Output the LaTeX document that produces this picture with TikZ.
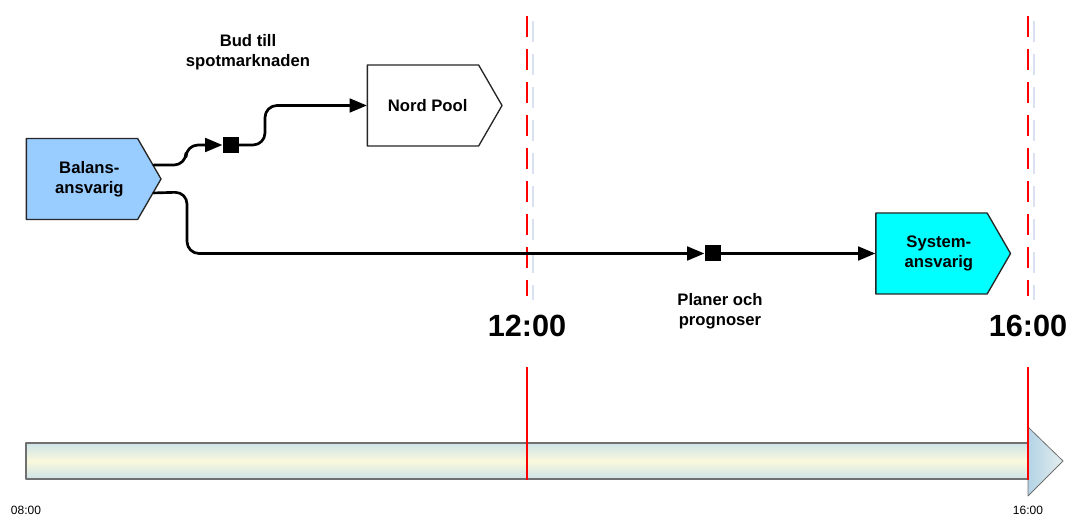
\documentclass[tikz,border=0pt]{standalone}
\usepackage{fontspec}
\setmainfont{Liberation Sans}
\usetikzlibrary{arrows,shapes.symbols}
\definecolor{balansblue}{HTML}{99CCFF}
\definecolor{syscyan}{HTML}{00FFFF}
\definecolor{shadowblue}{HTML}{D9E1F2}
\definecolor{barblue}{HTML}{CDE3E8}
\definecolor{barcream}{HTML}{FAF8DC}
\definecolor{headblue}{HTML}{B3D3E6}
\definecolor{headlight}{HTML}{E4EEEE}
\definecolor{bargrey}{HTML}{707070}
\newcommand{\tipshift}{\hspace*{11pt}}

\begin{document}
\begin{tikzpicture}[line cap=round,line join=round,>=triangle 45,x=0.75pt,y=-0.75pt,
    actor/.style={shape=signal,signal to=east,signal from=nowhere,signal pointer angle=120,
      draw=black!85,line width=1pt,minimum width=101pt,minimum height=60.75pt,inner sep=0pt,
      align=center,font=\fontsize{12.5}{15}\selectfont\bfseries},
    msg/.style={fill=black,minimum size=12pt,inner sep=0pt},
    flow/.style={line width=2pt,rounded corners=9pt},
    lbl/.style={align=center,font=\fontsize{12.5}{15}\selectfont\bfseries},
    clock/.style={font=\fontsize{23}{26}\selectfont\bfseries},
    tick/.style={font=\fontsize{9}{10}\selectfont,anchor=base},
    deadline/.style={red,line width=2.2pt,line cap=butt,dash pattern=on 15.75pt off 9pt},
    ghost/.style={shadowblue,line width=2.2pt,line cap=butt,dash pattern=on 15.75pt off 9pt}]
  \useasboundingbox (0,0) rectangle (1068,516);
  % deadlines
  \draw [ghost] (533,21) -- (533,300);
  \draw [ghost] (1034,21) -- (1034,300);
  \draw [deadline] (527,16) -- (527,296);
  \draw [deadline] (1028,16) -- (1028,296);
  % time bar
  \draw [bargrey,line width=0.8pt,top color=barblue,bottom color=barblue,middle color=barcream]
    (26,443) rectangle (1028,479);
  \draw [bargrey,line width=0.6pt,left color=headblue,right color=headlight]
    (1028,427) -- (1063,461) -- (1028,496) -- cycle;
  \draw [red,line width=2.2pt,line cap=butt] (527,367) -- (527,480);
  \draw [red,line width=2.2pt,line cap=butt] (1028,367) -- (1028,480);
  \node [tick] (t08) at (26,515) {08:00};
  \node [tick] (t16s) at (1028,515) {16:00};
  \node [clock] (t12) at (527,326) {12:00};
  \node [clock] (t16) at (1028,326) {16:00};
  % actors
  \node [actor,fill=balansblue] (balans) at (82,179) {\tipshift Balans-\\\tipshift ansvarig};
  \node [actor,fill=white] (nord) at (423,105.5) {\hspace*{7pt}Nord Pool};
  \node [actor,fill=syscyan] (sys) at (931.5,253.5) {\tipshift System-\\\tipshift ansvarig};
  \node [msg] (bud) at (230.5,145) {};
  \node [msg] (plan) at (712.5,253.5) {};
  \node [lbl] (budtxt) at (248,52) {Bud till\\spotmarknaden};
  \node [lbl] (plantxt) at (720,311) {Planer och\\prognoser};
  % flows
  \draw [->,flow] (balans.11) -- (186,165) -- (186,145) -- (bud.west);
  \draw [->,flow] (bud.east) -- (265,145) -- (265,105.5) -- (nord.west);
  \draw [->,flow] (balans.-11) -- (187,192) -- (187,253.5) -- (plan.west);
  \draw [->,flow] (plan.east) -- (sys.west);
\end{tikzpicture}
\end{document}
